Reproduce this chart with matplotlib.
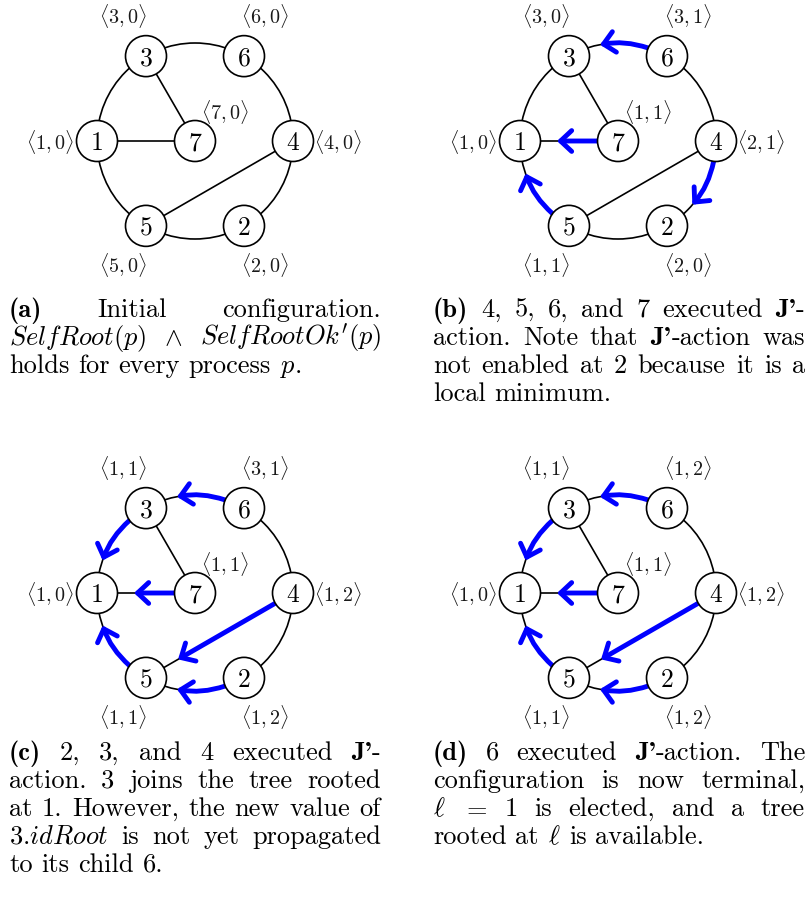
import numpy as np
import matplotlib.pyplot as plt
from matplotlib.patches import Circle, FancyArrowPatch

plt.rcParams['font.family'] = 'cmr10'
plt.rcParams['mathtext.fontset'] = 'cm'
plt.rcParams['axes.unicode_minus'] = False

# graph: ring nodes (angle in degrees), node 7 sits in the middle
ring_angle = {1: 180, 3: 120, 6: 60, 4: 0, 2: -60, 5: -120}
chords = [(3, 7), (1, 7), (4, 5)]

# <idRoot, level> of each process, per panel
labels_a = {1: (1, 0), 2: (2, 0), 3: (3, 0), 4: (4, 0), 5: (5, 0), 6: (6, 0), 7: (7, 0)}
labels_b = {1: (1, 0), 2: (2, 0), 3: (3, 0), 4: (2, 1), 5: (1, 1), 6: (3, 1), 7: (1, 1)}
labels_c = {1: (1, 0), 2: (1, 2), 3: (1, 1), 4: (1, 2), 5: (1, 1), 6: (3, 1), 7: (1, 1)}
labels_d = {1: (1, 0), 2: (1, 2), 3: (1, 1), 4: (1, 2), 5: (1, 1), 6: (1, 2), 7: (1, 1)}

# parent pointers (child -> parent)
arrows_a = []
arrows_b = [(6, 3), (7, 1), (5, 1), (4, 2)]
arrows_c = [(6, 3), (3, 1), (7, 1), (5, 1), (4, 5), (2, 5)]
arrows_d = [(6, 3), (3, 1), (7, 1), (5, 1), (4, 5), (2, 5)]

caption_a = ["**(a)** Initial configuration.",
             r"$Self\mathit{Root}(p)$ $\wedge$ $Self\mathit{RootOk}'(p)$",
             "holds for every process $p$."]
caption_b = ["**(b)** 4, 5, 6, and 7 executed **J'**-",
             "action. Note that **J'**-action was",
             "not enabled at 2 because it is a",
             "local minimum."]
caption_c = ["**(c)** 2, 3, and 4 executed **J'**-",
             "action. 3 joins the tree rooted",
             "at 1. However, the new value of",
             r"3.$idRoot$ is not yet propagated",
             "to its child 6."]
caption_d = ["**(d)** 6 executed **J'**-action. The",
             "configuration is now terminal,",
             r"$\ell$ $=$ 1 is elected, and a tree",
             r"rooted at $\ell$ is available."]

W, H = 807, 904
R = 98          # ring radius (px)
r_node = 20.5   # node radius (px)
label_off = {1: (-47, 0), 2: (21, 38), 3: (-23, -41), 4: (45, 0),
             5: (-23, 38), 6: (21, -41), 7: (30, -30)}

fig = plt.figure(figsize=(W / 100, H / 100), dpi=100)
ax = fig.add_axes([0, 0, 1, 1])
ax.set_xlim(0, W)
ax.set_ylim(H, 0)
ax.axis('off')
renderer = fig.canvas.get_renderer()
px2pt = 72 / 100


def pos(c, n):
    if n == 7:
        return c
    t = np.radians(ring_angle[n])
    return (c[0] + R * np.cos(t), c[1] - R * np.sin(t))


def draw_graph(c, labels, arrows):
    ax.add_patch(Circle(c, R, fill=False, lw=1.2, ec='black', zorder=1))
    for a, b in chords:
        pa, pb = pos(c, a), pos(c, b)
        ax.plot([pa[0], pb[0]], [pa[1], pb[1]], color='black', lw=1.2, zorder=1)
    for a, b in arrows:
        if a in ring_angle and b in ring_angle and (a, b) not in chords and (b, a) not in chords:
            d = (ring_angle[b] - ring_angle[a] + 180) % 360 - 180
            rad = 0.268 * np.sign(d)
            gap = 33
        else:
            rad = 0.0
            gap = 37
        arr = FancyArrowPatch(pos(c, a), pos(c, b),
                              connectionstyle=f"arc3,rad={rad}",
                              arrowstyle="->,head_length=8,head_width=7.5",
                              shrinkA=r_node * px2pt, shrinkB=gap * px2pt,
                              color='#0000ff', lw=3.5, capstyle='round',
                              joinstyle='round', zorder=2)
        ax.add_patch(arr)
    for n in range(1, 8):
        p = pos(c, n)
        ax.add_patch(Circle(p, r_node, fc='white', ec='black', lw=1.2, zorder=3))
        ax.text(p[0], p[1] + 8.3, str(n), fontsize=18.5, ha='center',
                va='baseline', zorder=4)
        ox, oy = label_off[n]
        v = labels[n]
        ax.text(p[0] + ox, p[1] + oy, r"$\langle %d,%d\rangle$" % v,
                fontsize=14.5, ha='center', va='center', color='#1a1a1a', zorder=4)


def draw_caption(lines, x0, y0, width, fs=19, step=28):
    em = fs * 100 / 72
    for i, line in enumerate(lines):
        y = y0 + i * step
        words = []
        for w in line.split(' '):
            segs = []
            for k, s in enumerate(w.split('**')):
                if s:
                    fam = 'cmb10' if k % 2 else 'cmr10'
                    t = ax.text(0, y, s, fontsize=fs, family=fam, ha='left',
                                va='baseline')
                    segs.append((t, t.get_window_extent(renderer).width))
            words.append(segs)
        widths = [sum(s[1] for s in segs) for segs in words]
        last = i == len(lines) - 1
        if last or len(words) < 2:
            gap = 0.333 * em
        else:
            gap = (width - sum(widths)) / (len(words) - 1)
        x = x0
        for segs, wd in zip(words, widths):
            xx = x
            for t, tw in segs:
                t.set_x(xx)
                xx += tw
            x += wd + gap


centres = [(195, 142), (618, 142), (195, 594), (618, 594)]
all_labels = [labels_a, labels_b, labels_c, labels_d]
all_arrows = [arrows_a, arrows_b, arrows_c, arrows_d]
for c, lab, arr in zip(centres, all_labels, all_arrows):
    draw_graph(c, lab, arr)

draw_caption(caption_a, 9, 317, 372)
draw_caption(caption_b, 433, 317, 372)
draw_caption(caption_c, 9, 760, 372)
draw_caption(caption_d, 433, 760, 372)

fig.savefig('out.png', dpi=100, facecolor='white')
